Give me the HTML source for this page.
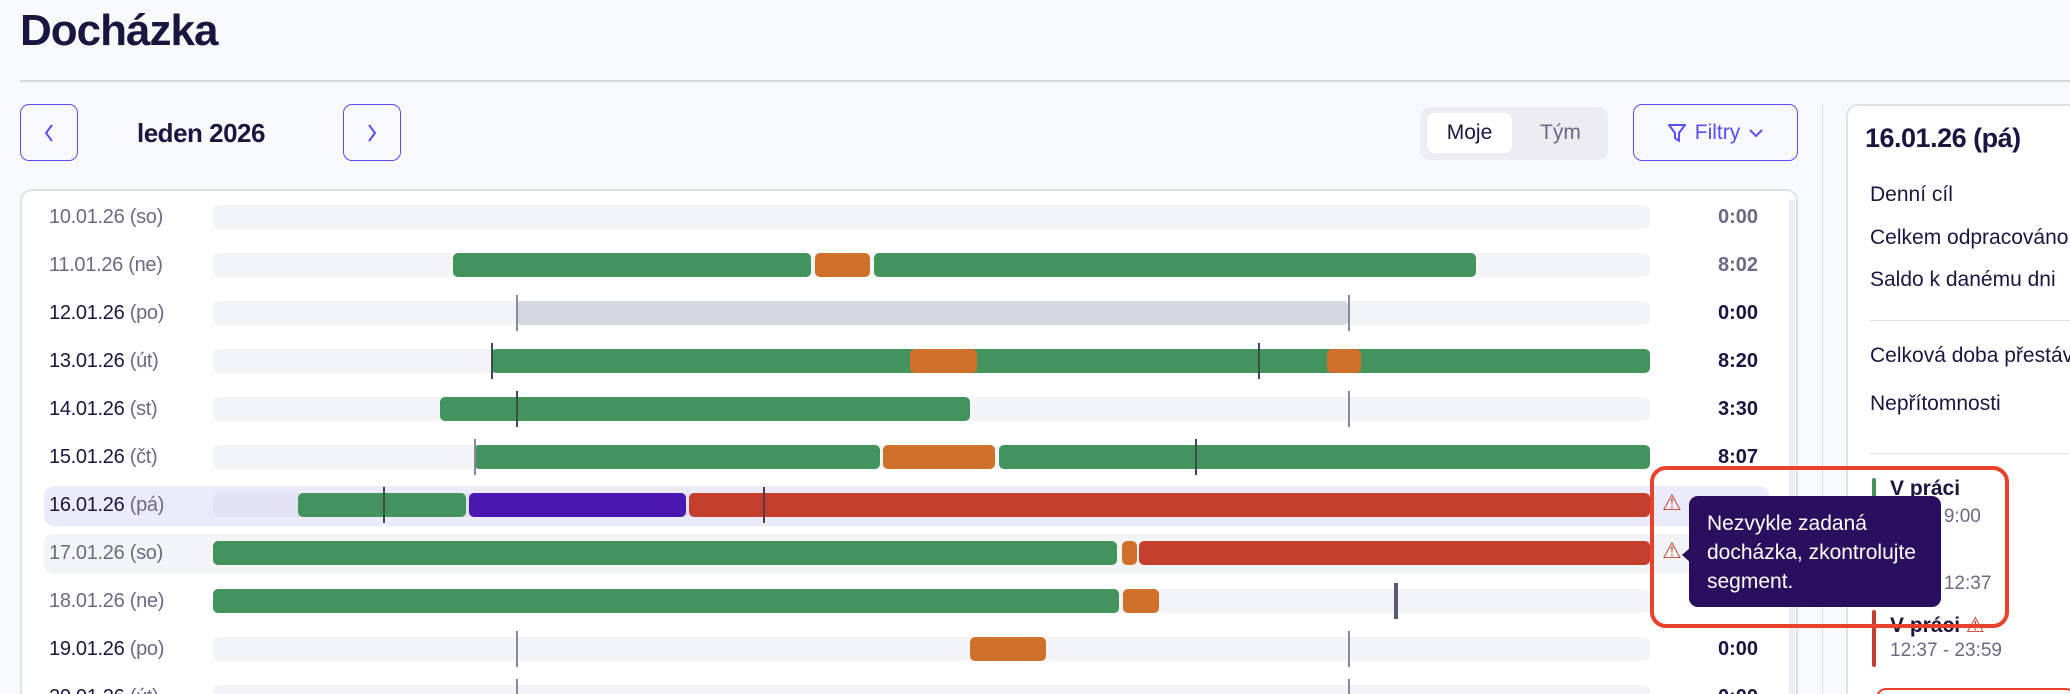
<!DOCTYPE html>
<html style="width:2070px;height:694px;overflow:hidden"><head><meta charset="utf-8"><style>
*{margin:0;padding:0;box-sizing:border-box}
body{width:2070px;height:694px;overflow:hidden;background:#f8f9fb;font-family:"Liberation Sans",sans-serif;color:#1a1640}
#w{position:relative;width:2070px;height:694px;overflow:hidden}
.a{position:absolute;white-space:nowrap}
.btn{position:absolute;border:1.5px solid #5b4cf5;border-radius:9px;background:#f8f9fb;color:#5b4cf5;display:flex;align-items:center;justify-content:center}
.lbl{position:absolute;left:49px;font-size:20px;line-height:24px;color:#1a1640;letter-spacing:-0.3px;white-space:nowrap}
.lbl span,.we{color:#6b6984}
.trk{position:absolute;left:213px;width:1437px;height:24px;background:#f3f4f6;border-radius:6px}
.s{position:absolute;height:24px;border-radius:5px}
.g{background:#42945c}.o{background:#d0702a}.r{background:#c53f2f}.p{background:#4a17b0}.gr{background:#d5d8e0}
.t{position:absolute;width:2px;height:36px;background:#8a88a2}
.tm{position:absolute;right:312px;font-size:20px;line-height:24px;font-weight:bold;color:#1a1640}
.tm.l{color:#6b6984}
.rp{position:absolute;left:1870px;font-size:21px;color:#1a1640;white-space:nowrap}
</style></head><body><div id="w">
<div class="a" style="left:20px;top:6px;font-size:44px;font-weight:bold;letter-spacing:-1px">Docházka</div>
<div class="a" style="left:20px;top:80px;width:2050px;height:2px;background:#d8dbe3"></div>
<div class="btn" style="left:20px;top:104px;width:58px;height:57px"><svg width="14" height="22" viewBox="0 0 14 22"><path d="M10 3L4 11l6 8" fill="none" stroke="#5b4cf5" stroke-width="2"/></svg></div>
<div class="a" style="left:137px;top:118px;font-size:26px;font-weight:bold;letter-spacing:-0.5px">leden 2026</div>
<div class="btn" style="left:343px;top:104px;width:58px;height:57px"><svg width="14" height="22" viewBox="0 0 14 22"><path d="M4 3l6 8-6 8" fill="none" stroke="#5b4cf5" stroke-width="2"/></svg></div>
<div class="a" style="left:1420px;top:107px;width:188px;height:53px;background:#ececf1;border-radius:10px"></div>
<div class="a" style="left:1427px;top:113px;width:85px;height:40px;background:#fff;border-radius:8px;font-size:21px;text-align:center;line-height:40px">Moje</div>
<div class="a" style="left:1540px;top:113px;font-size:21px;line-height:40px;color:#6b6984">Tým</div>
<div class="btn" style="left:1633px;top:104px;width:165px;height:57px;font-size:21px;gap:8px">
<svg width="20" height="22" viewBox="0 0 20 22"><path d="M2 3h16l-6 8v8l-4-3v-5z" fill="none" stroke="#5b4cf5" stroke-width="2" stroke-linejoin="round"/></svg>Filtry <svg width="16" height="12" viewBox="0 0 16 12"><path d="M2 3l6 6 6-6" fill="none" stroke="#5b4cf5" stroke-width="2"/></svg></div>
<div class="a" style="left:1822px;top:104px;width:1px;height:590px;background:#e0e2e8"></div>
<div class="a" style="left:20px;top:189px;width:1778px;height:530px;background:#fff;border:2px solid #dfe1e7;border-radius:12px"></div>
<div class="a" style="left:1789px;top:200px;width:6px;height:494px;background:#eceef2"></div>
<div class="a" style="left:44px;top:486px;width:1725px;height:40px;background:#ebebfb;border-radius:10px"></div>
<div class="a" style="left:44px;top:534px;width:1725px;height:40px;background:#f3f4f6;border-radius:10px"></div>

<div class="lbl we" style="top:205px">10.01.26 (so)</div>
<div class="lbl we" style="top:253px">11.01.26 (ne)</div>
<div class="lbl" style="top:301px">12.01.26 <span>(po)</span></div>
<div class="lbl" style="top:349px">13.01.26 <span>(út)</span></div>
<div class="lbl" style="top:397px">14.01.26 <span>(st)</span></div>
<div class="lbl" style="top:445px">15.01.26 <span>(čt)</span></div>
<div class="lbl" style="top:493px">16.01.26 <span>(pá)</span></div>
<div class="lbl we" style="top:541px">17.01.26 (so)</div>
<div class="lbl we" style="top:589px">18.01.26 (ne)</div>
<div class="lbl" style="top:637px">19.01.26 <span>(po)</span></div>
<div class="lbl" style="top:685px">20.01.26 <span>(út)</span></div>

<div class="trk" style="top:205px"></div>
<div class="trk" style="top:253px"></div>
<div class="trk" style="top:301px"></div>
<div class="trk" style="top:349px"></div>
<div class="trk" style="top:397px"></div>
<div class="trk" style="top:445px"></div>
<div class="trk" style="top:493px;background:#e3e3f5"></div>
<div class="trk" style="top:541px"></div>
<div class="trk" style="top:589px"></div>
<div class="trk" style="top:637px"></div>
<div class="trk" style="top:685px"></div>

<div class="s g" style="top:253px;left:453px;width:358px"></div>
<div class="s o" style="top:253px;left:815px;width:55px"></div>
<div class="s g" style="top:253px;left:874px;width:602px"></div>

<div class="s gr" style="top:301px;left:516px;width:832px"></div>
<div class="t" style="top:295px;left:516px"></div><div class="t" style="top:295px;left:1348px"></div>

<div class="s g" style="top:349px;left:491px;width:1159px"></div>
<div class="s o" style="top:349px;left:910px;width:67px"></div>
<div class="s o" style="top:349px;left:1327px;width:34px"></div>
<div class="t" style="top:343px;left:491px;background:#3f4a55"></div><div class="t" style="top:343px;left:1258px;background:#3f4a55"></div>

<div class="s g" style="top:397px;left:440px;width:530px"></div>
<div class="t" style="top:391px;left:516px;background:#3f4a55"></div><div class="t" style="top:391px;left:1348px"></div>

<div class="s g" style="top:445px;left:474px;width:406px"></div>
<div class="s o" style="top:445px;left:883px;width:112px"></div>
<div class="s g" style="top:445px;left:999px;width:651px"></div>
<div class="t" style="top:439px;left:474px"></div><div class="t" style="top:439px;left:1195px;background:#3f4a55"></div>

<div class="s g" style="top:493px;left:298px;width:168px"></div>
<div class="s p" style="top:493px;left:469px;width:217px"></div>
<div class="s r" style="top:493px;left:689px;width:961px"></div>
<div class="t" style="top:487px;left:383px;background:#3f4a55"></div><div class="t" style="top:487px;left:763px;background:#5a3a40"></div>

<div class="s g" style="top:541px;left:213px;width:904px"></div>
<div class="s o" style="top:541px;left:1122px;width:15px"></div>
<div class="s r" style="top:541px;left:1139px;width:511px"></div>

<div class="s g" style="top:589px;left:213px;width:906px"></div>
<div class="s o" style="top:589px;left:1123px;width:36px"></div>
<div class="t" style="top:583px;left:1394px;width:4px;background:#5a5878"></div>

<div class="s o" style="top:637px;left:970px;width:76px"></div>
<div class="t" style="top:631px;left:516px"></div><div class="t" style="top:631px;left:1348px"></div>
<div class="t" style="top:679px;left:516px"></div><div class="t" style="top:679px;left:1348px"></div>

<div class="tm l" style="top:205px">0:00</div>
<div class="tm l" style="top:253px">8:02</div>
<div class="tm" style="top:301px">0:00</div>
<div class="tm" style="top:349px">8:20</div>
<div class="tm" style="top:397px">3:30</div>
<div class="tm" style="top:445px">8:07</div>
<div class="tm" style="top:637px">0:00</div>
<div class="tm" style="top:685px">0:00</div>

<div class="a" style="left:1846px;top:104px;width:260px;height:650px;background:#fff;border:2px solid #dfe1e7;border-radius:12px"></div>
<div class="rp" style="left:1865px;top:123px;font-size:27px;font-weight:bold;letter-spacing:-0.5px">16.01.26 (pá)</div>
<div class="rp" style="top:183px">Denní cíl</div>
<div class="rp" style="top:226px">Celkem odpracováno</div>
<div class="rp" style="top:268px">Saldo k danému dni</div>
<div class="a" style="left:1870px;top:320px;width:200px;height:1px;background:#dfe1e7"></div>
<div class="rp" style="top:344px">Celková doba přestávek</div>
<div class="rp" style="top:392px">Nepřítomnosti</div>
<div class="a" style="left:1870px;top:453px;width:200px;height:1px;background:#dfe1e7"></div>
<div class="a" style="left:1872px;top:478px;width:4px;height:26px;background:#42945c;border-radius:2px"></div>
<div class="rp" style="left:1890px;top:477px;font-weight:bold">V práci</div>
<div class="rp" style="left:1890px;top:506px;font-size:19px;color:#6b6984">6:00 - 9:00</div>
<div class="rp" style="left:1890px;top:573px;font-size:19px;color:#6b6984">9:00 - 12:37</div>
<div class="a" style="left:1872px;top:610px;width:4px;height:57px;background:#c53f2f;border-radius:2px"></div>
<div class="rp" style="left:1890px;top:613px;font-weight:bold">V práci <span style="color:#c53f2f;font-weight:normal">&#9888;</span></div>
<div class="rp" style="left:1890px;top:640px;font-size:19px;color:#6b6984">12:37 - 23:59</div>
<div class="a" style="left:1876px;top:688px;width:200px;height:20px;border:2px solid #e8412c;border-radius:10px"></div>

<div class="a" style="left:1650px;top:466px;width:359px;height:162px;border:4px solid #e8412c;border-radius:16px"></div>
<div class="a" style="left:1662px;top:490px;font-size:22px;color:#c53f2f">&#9888;</div>
<div class="a" style="left:1662px;top:538px;font-size:22px;color:#c53f2f">&#9888;</div>
<div class="a" style="left:1682px;top:547px;width:0;height:0;border-top:8px solid transparent;border-bottom:8px solid transparent;border-right:9px solid #2a0f5e"></div>
<div class="a" style="left:1689px;top:496px;width:252px;height:111px;background:#2a0f5e;border-radius:9px;color:#fff;font-size:21px;line-height:29px;padding:13px 18px;white-space:normal">Nezvykle zadaná docházka, zkontrolujte segment.</div>
</div></body></html>
